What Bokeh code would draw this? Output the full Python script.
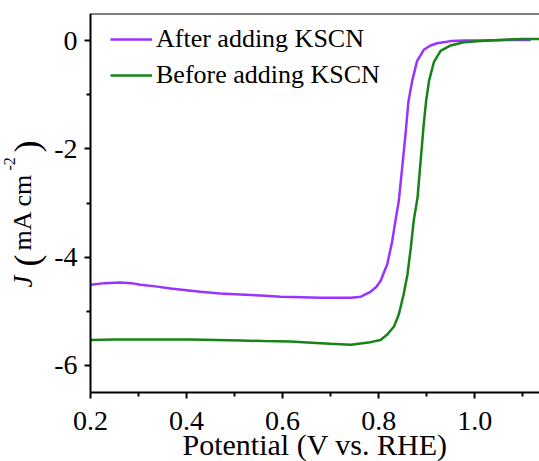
from bokeh.plotting import figure
from bokeh.models import (Range1d, FixedTicker, Legend, LegendItem, Label,
                          LinearAxis)
from bokeh.core.properties import value
from bokeh.embed import file_html
from bokeh.resources import INLINE

# LSV curves (potential in V vs. RHE, current density in mA cm^-2)
after_v = [0.200, 0.230, 0.262, 0.285, 0.304, 0.335, 0.367, 0.400, 0.429, 0.470,
           0.512, 0.555, 0.596, 0.640, 0.679, 0.710, 0.742, 0.763, 0.783, 0.795,
           0.804, 0.818, 0.828, 0.835, 0.842, 0.849, 0.856, 0.862, 0.870, 0.880,
           0.894, 0.908, 0.922, 0.950, 0.980, 1.020, 1.070, 1.117]
after_j = [-4.51, -4.48, -4.47, -4.48, -4.51, -4.54, -4.58, -4.61, -4.64, -4.67,
           -4.69, -4.71, -4.73, -4.74, -4.75, -4.75, -4.75, -4.73, -4.64, -4.55,
           -4.44, -4.13, -3.72, -3.33, -2.96, -2.35, -1.73, -1.13, -0.74, -0.38,
           -0.17, -0.09, -0.05, -0.01, 0.00, 0.00, 0.01, 0.01]

before_v = [0.200, 0.250, 0.300, 0.350, 0.408, 0.460, 0.512, 0.560, 0.617, 0.660,
            0.700, 0.742, 0.783, 0.804, 0.818, 0.832, 0.842, 0.852, 0.860, 0.867,
            0.873, 0.881, 0.8875, 0.894, 0.899, 0.905, 0.915, 0.929, 0.950, 0.977,
            1.012, 1.050, 1.100, 1.140]
before_j = [-5.53, -5.52, -5.52, -5.52, -5.52, -5.53, -5.54, -5.55, -5.56, -5.58,
            -5.60, -5.62, -5.57, -5.53, -5.43, -5.28, -5.06, -4.69, -4.32, -3.83,
            -3.33, -2.90, -2.22, -1.54, -1.11, -0.74, -0.40, -0.19, -0.09, -0.03,
            -0.01, 0.01, 0.03, 0.03]

x_ticks = [0.2, 0.4, 0.6, 0.8, 1.0]
x_minor = [0.3, 0.5, 0.7, 0.9, 1.1]
y_ticks = [0, -2, -4, -6]
y_minor = [-1, -3, -5]

x_title = "Potential (V vs. RHE)"
# y-axis title, drawn piece by piece so that J is italic and -2 is raised
ytitle_text = ["J", "(", "mA cm", "-2", ")"]

X_START, X_END = 0.2, 1.135
Y_START, Y_END = -6.5, 0.5

FONT = "Liberation Serif"
PURPLE = "#9933ff"
GREEN = "#168416"

W, H = 539, 461
TOP = 13                                   # pixel row of the top edge
AXIS_X_PX, AXIS_Y_PX = 90, 392             # pixel column / row of the axes
SX = (W - AXIS_X_PX) / (X_END - X_START)   # px per volt
SY = (AXIS_Y_PX - TOP) / (Y_END - Y_START) # px per mA cm^-2

# the frame fills the canvas; the box axes sit at X_START / Y_START
X_FRAME_LOW = X_START - AXIS_X_PX / SX
Y_FRAME_LOW = Y_START - (H - AXIS_Y_PX) / SY


def at_px(px, py):
    """Data position of a canvas pixel (used for placing the titles)."""
    return X_START + (px - AXIS_X_PX) / SX, Y_START - (py - AXIS_Y_PX) / SY


p = figure(width=W, height=H, output_backend="svg", toolbar_location=None,
           x_range=Range1d(X_FRAME_LOW, X_END), y_range=Range1d(Y_FRAME_LOW, Y_END),
           min_border_left=0, min_border_right=0, min_border_top=TOP,
           min_border_bottom=0)
p.grid.visible = False
p.outline_line_color = None

r_after = p.line(after_v, after_j, line_color=PURPLE, line_width=2.5)
r_before = p.line(before_v, before_j, line_color=GREEN, line_width=2.5)

for ax in (p.xaxis[0], p.yaxis[0]):
    ax.axis_line_width = 2
    ax.axis_line_color = "black"
    ax.major_tick_line_width = 2
    ax.minor_tick_line_width = 2
    ax.major_tick_in = 0
    ax.major_tick_out = 6
    ax.minor_tick_in = 0
    ax.minor_tick_out = 4
    ax.major_label_text_font = FONT
    ax.major_label_text_font_size = "28px"
    ax.major_label_text_color = "black"

xa = p.xaxis[0]
xa.fixed_location = Y_START
xa.bounds = (X_START, X_END)
xa.ticker = FixedTicker(ticks=x_ticks, minor_ticks=x_minor)
xa.major_label_overrides = {t: f"{t:.1f}" for t in x_ticks}
xa.major_label_standoff = 13

ya = p.yaxis[0]
ya.fixed_location = X_START
ya.bounds = (Y_START, Y_END)
ya.ticker = FixedTicker(ticks=y_ticks, minor_ticks=y_minor)
ya.major_label_overrides = {t: str(t) for t in y_ticks}
ya.major_label_standoff = 7

# top edge of the box: a bare axis line
top = LinearAxis(fixed_location=Y_END, bounds=(X_START, X_END),
                 axis_line_width=2, axis_line_color="black",
                 major_tick_line_color=None, minor_tick_line_color=None,
                 major_label_text_font_size="0px",
                 ticker=FixedTicker(ticks=[]))
p.add_layout(top, "above")

# x-axis title
tx, ty = at_px((AXIS_X_PX + W) / 2, 444)
p.add_layout(Label(x=tx, y=ty, text=x_title, text_font=FONT,
                   text_font_size="30px", text_align="center",
                   text_baseline="alphabetic", text_color="black"))

# y-axis title pieces: baseline column and start row in canvas pixels
piece_x = [22, 26, 22, 9, 26]
piece_top = [287, 266, 250, 170, 152]
piece_size = ["27px", "36px", "26px", "16px", "36px"]
piece_style = ["italic", "normal", "normal", "normal", "normal"]
for t, px, pt, fs, st in zip(ytitle_text, piece_x, piece_top, piece_size, piece_style):
    dx, dy = at_px(px, pt)
    p.text(x=[dx], y=[dy], text=[t], angle=1.5707963,
           text_font=value(FONT), text_font_size=fs, text_font_style=st,
           text_baseline="alphabetic", text_align="left", text_color="black")

legend = Legend(items=[LegendItem(label="After adding KSCN", renderers=[r_after]),
                       LegendItem(label="Before adding KSCN", renderers=[r_before])],
                location=(110, H - TOP - 19 - 58), padding=0, margin=0, spacing=6,
                glyph_width=42, glyph_height=26, label_height=26,
                label_standoff=4, label_text_font=FONT,
                label_text_font_size="26px", label_text_color="black",
                border_line_color=None, background_fill_alpha=0)
p.add_layout(legend)

open("out.html", "w").write(file_html(p, INLINE))
